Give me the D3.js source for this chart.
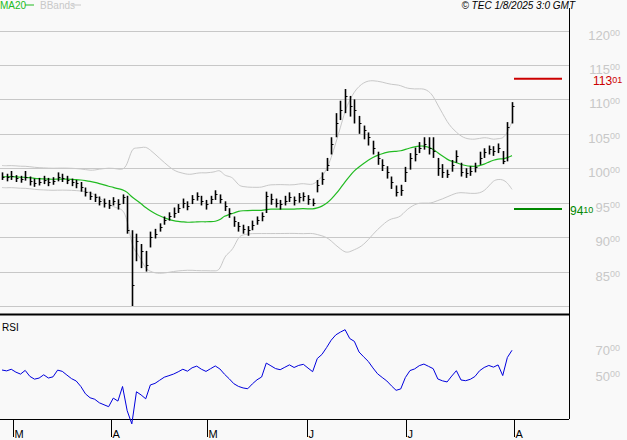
<!DOCTYPE html>
<html><head><meta charset="utf-8">
<script src="https://cdn.jsdelivr.net/npm/d3@7"></script>
<style>body{margin:0;background:#fff}svg{display:block}</style></head>
<body><svg id="c" width="627" height="440"></svg>
<script>
const closes=[98.8,98.7,98.9,98.6,98.4,98.8, 98.2,97.9,98.0,98.3,98.0,98.1,98.7, 98.6,98.3,98.0,97.8,97.3,
96.5,96.0,95.8,95.3,95.0,94.7,95.2,94.8, 95.8,91.0, 83.0,89.5,88.0,86.0, 90.0,90.5,91.5,92.5,93.0,
93.5,94.2,95.0,94.5,95.5,96.0,95.3,94.8,95.5,96.2, 95.6,94.5,93.5,92.3,91.6,91.2,91.0,91.8,
92.5,93.0,96.0,95.5,95.0,94.8,95.3,95.8,95.4,95.8,96.0,95.5,95.0, 97.5,98.5,100.5,103.5,106.5,108.5,110.5,109.0,108.5,
106.5,105.5,104.5,103.0,101.5,100.5,99.5,98.0,96.5,96.8,99.5, 101.5,102.0,103.0,103.5,103.0,102.5,
100.0,99.5,99.2,100.5,101.8,99.5,99.3,99.6,100.2,101.5, 102.3,102.8,102.5,103.0,101.0,106.0,109.0];
const highs=[99.4,99.2,99.6,99.0,98.9,99.6, 98.8,98.5,98.6,98.9,98.6,98.7,99.4, 99.2,98.9,98.5,98.3,98.0,
97.2,96.6,96.3,95.9,95.6,95.4,95.8,95.5, 96.2,96.0, 91.0,90.5,89.0,88.0, 90.8,91.2,92.0,93.0,93.6,
94.3,94.8,95.6,95.2,96.1,96.5,96.0,95.4,96.0,96.8, 96.2,95.2,94.2,93.0,92.2,91.8,91.6,92.4,
93.0,93.6,96.6,96.3,95.6,95.4,96.0,96.5,95.9,96.4,96.5,96.1,95.6, 98.3,99.4,101.5,104.5,108.0,109.8,111.5,110.5,110.0,
107.6,106.2,105.2,104.0,102.4,101.3,100.3,98.8,97.5,97.6,100.2, 102.2,103.0,103.8,104.5,104.5,104.5,
101.5,100.6,99.8,101.2,102.6,100.8,100.0,100.3,100.8,102.4, 102.9,103.3,103.2,103.6,102.5,106.7,109.6];
const lows=[98.3,98.1,98.3,98.0,97.9,98.2, 97.5,97.3,97.5,97.7,97.4,97.6,98.1, 98.0,97.7,97.4,97.1,96.6,
95.9,95.4,95.1,94.6,94.3,94.1,94.6,94.0, 94.8,90.5, 80.0,86.5,85.5,85.0, 88.5,89.8,90.8,91.8,92.4,
92.8,93.5,94.2,93.9,94.8,95.3,94.6,94.0,94.8,95.4, 94.9,93.8,92.8,91.5,90.8,90.5,90.2,91.0,
91.8,92.3,93.5,94.7,94.3,94.0,94.6,95.1,94.6,95.0,95.2,94.7,94.5, 96.5,97.6,99.6,102.0,104.5,107.0,108.0,107.5,106.5,
105.0,104.2,103.3,102.0,100.5,99.6,98.5,97.0,95.9,96.0,98.0, 99.8,101.0,102.2,102.7,102.0,101.5,
98.9,98.6,98.6,99.5,100.8,98.8,98.6,98.9,99.4,100.5, 101.5,102.0,101.8,102.2,100.6,101.0,106.5];
const priceTicks=[80,85,90,95,100,105,110,115,120];
const rsiTicks=[50,70];
const monthLabels=["M","A","M","J","J","A"];
const monthIdx=[2.4,23.5,44.2,65.8,87.1,110.4];
const lastPrice=113.01, support=94.10;

const svg=d3.select("#c");
svg.append("rect").attr("width",627).attr("height",440).attr("fill","#f9f9f9");
const x=d3.scaleLinear().domain([0,closes.length-1]).range([2,512]);
const y=d3.scaleLinear().domain([80,120]).range([306,30.5]);
const yr=d3.scaleLinear().domain([0,100]).range([440,310]);
const n=closes.length;
const ma=[],up=[],lo=[];
for(let i=0;i<n;i++){const w=closes.slice(Math.max(0,i-19),i+1);const m=d3.mean(w);const s=d3.deviation(w)||0.8;ma.push(m);up.push(m+2*Math.max(s,0.8));lo.push(m-2*Math.max(s,0.8));}
const rsi=[];let ag=0.35,al=0.3;
for(let i=0;i<n;i++){const d=i?closes[i]-closes[i-1]:0;ag=(ag*13+Math.max(d,0))/14;al=(al*13+Math.max(-d,0))/14;rsi.push(100-100/(1+ag/al));}

svg.selectAll(".g").data(priceTicks).join("line").attr("x1",0).attr("x2",569)
 .attr("y1",d=>Math.round(y(d))+0.5).attr("y2",d=>Math.round(y(d))+0.5).attr("stroke","#c8c8c8");
const lab=svg.selectAll(".pl").data(priceTicks.filter(d=>d>80)).join("text").attr("x",620).attr("y",d=>y(d)+9)
 .attr("text-anchor","end").attr("fill","#c8c8c8").attr("font-family","Arial,Liberation Sans").attr("font-size",13);
lab.append("tspan").text(d=>d);lab.append("tspan").attr("font-size",9).attr("dy",-4).text("00");
const rl=svg.selectAll(".rl").data(rsiTicks).join("text").attr("x",620).attr("y",d=>yr(d)+6)
 .attr("text-anchor","end").attr("fill","#c8c8c8").attr("font-family","Arial,Liberation Sans").attr("font-size",13);
rl.append("tspan").text(d=>d);rl.append("tspan").attr("font-size",9).attr("dy",-4).text("00");

const line=d3.line().x((d,i)=>x(i)).y(d=>y(d)).curve(d3.curveBasis);
svg.append("path").attr("d",line(up)).attr("fill","none").attr("stroke","#c8c8c8");
svg.append("path").attr("d",line(lo)).attr("fill","none").attr("stroke","#c8c8c8");
svg.append("path").attr("d",line(ma)).attr("fill","none").attr("stroke","#22bb22").attr("stroke-width",1.2);

const bars=svg.append("g");
closes.forEach((c,i)=>{const xx=Math.round(x(i))+0.5;
 bars.append("line").attr("x1",xx).attr("x2",xx).attr("y1",y(highs[i])).attr("y2",y(lows[i])).attr("stroke","#000").attr("stroke-width",1.6);
 bars.append("line").attr("x1",xx).attr("x2",xx+2).attr("y1",Math.round(y(c))+0.5).attr("y2",Math.round(y(c))+0.5).attr("stroke","#000");});

svg.append("line").attr("x1",514).attr("x2",562).attr("y1",y(lastPrice)).attr("y2",y(lastPrice)).attr("stroke","#cc0000").attr("stroke-width",2);
svg.append("line").attr("x1",514).attr("x2",562).attr("y1",y(support)).attr("y2",y(support)).attr("stroke","#008800").attr("stroke-width",2);
const t1=svg.append("text").attr("x",593).attr("y",y(lastPrice)+6).attr("fill","#cc0000").attr("font-family","Arial").attr("font-size",12);
t1.append("tspan").text("113");t1.append("tspan").attr("font-size",9).attr("dy",-2).text("01");
const t2=svg.append("text").attr("x",570).attr("y",y(support)+6).attr("fill","#008800").attr("font-family","Arial").attr("font-size",12);
t2.append("tspan").text("94");t2.append("tspan").attr("font-size",9).attr("dy",-2).text("10");

svg.append("line").attr("x1",0).attr("x2",569).attr("y1",314.5).attr("y2",314.5).attr("stroke","#000").attr("stroke-width",2);
svg.append("line").attr("x1",569.5).attr("x2",569.5).attr("y1",8).attr("y2",419).attr("stroke","#000");
svg.append("line").attr("x1",0).attr("x2",569).attr("y1",419.5).attr("y2",419.5).attr("stroke","#000");

const rline=d3.line().x((d,i)=>x(i)).y(d=>yr(d));
svg.append("path").attr("d",rline(rsi)).attr("fill","none").attr("stroke","#0000dd");
svg.append("text").attr("x",2).attr("y",331).text("RSI").attr("font-family","Arial").attr("font-size",10);

monthIdx.forEach((m,i)=>{const xx=Math.round(x(m))+0.5;
 svg.append("line").attr("x1",xx).attr("x2",xx).attr("y1",420).attr("y2",437).attr("stroke","#000");
 svg.append("text").attr("x",xx+1).attr("y",438).text(monthLabels[i]).attr("font-family","Arial").attr("font-size",11);});

svg.append("text").attr("x",0).attr("y",9).attr("fill","#22bb22").attr("font-family","Arial").attr("font-size",10).text("MA20");
svg.append("line").attr("x1",25).attr("x2",34).attr("y1",5).attr("y2",5).attr("stroke","#22bb22");
svg.append("text").attr("x",40).attr("y",9).attr("fill","#c8c8c8").attr("font-family","Arial").attr("font-size",10).text("BBands");
svg.append("line").attr("x1",72).attr("x2",81).attr("y1",5).attr("y2",5).attr("stroke","#c8c8c8");
svg.append("text").attr("x",575).attr("y",9).attr("text-anchor","end").attr("font-family","Arial").attr("font-style","italic").attr("font-size",10).text("© TEC 1/8/2025 3:0 GMT");
</script></body></html>
